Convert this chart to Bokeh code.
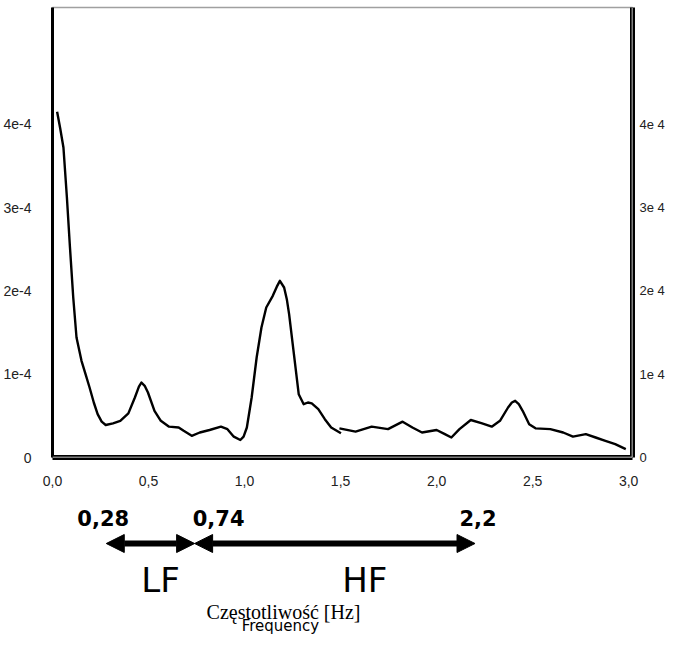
from bokeh.plotting import figure
from bokeh.models import Range1d, LinearAxis, FixedTicker, Span, Arrow, NormalHead
from bokeh.layouts import column
from bokeh.embed import file_html
from bokeh.resources import INLINE
from bokeh.core.properties import value

# ---------------- data ----------------
seg1_freq = [0.024, 0.040, 0.057, 0.075, 0.091, 0.108, 0.125, 0.151, 0.172, 0.193,
             0.215, 0.235, 0.256, 0.277, 0.315, 0.353, 0.395, 0.429, 0.450, 0.463,
             0.480, 0.497, 0.531, 0.564, 0.607, 0.657, 0.683, 0.725, 0.767, 0.818,
             0.877, 0.911, 0.944, 0.978, 0.995, 1.012, 1.037, 1.063, 1.088, 1.113,
             1.147, 1.168, 1.184, 1.206, 1.220, 1.232, 1.257, 1.282, 1.308, 1.330,
             1.350, 1.384, 1.418, 1.451, 1.502]
seg1_psd = [4.15e-4, 3.95e-4, 3.72e-4, 3.12e-4, 2.52e-4, 1.92e-4, 1.44e-4, 1.16e-4, 1.00e-4, 0.84e-4,
            0.66e-4, 0.52e-4, 0.43e-4, 0.39e-4, 0.41e-4, 0.44e-4, 0.53e-4, 0.72e-4, 0.85e-4, 0.90e-4,
            0.86e-4, 0.78e-4, 0.56e-4, 0.44e-4, 0.37e-4, 0.36e-4, 0.32e-4, 0.26e-4, 0.30e-4, 0.33e-4,
            0.37e-4, 0.34e-4, 0.25e-4, 0.21e-4, 0.25e-4, 0.36e-4, 0.72e-4, 1.20e-4, 1.56e-4, 1.80e-4,
            1.94e-4, 2.05e-4, 2.12e-4, 2.04e-4, 1.90e-4, 1.72e-4, 1.24e-4, 0.76e-4, 0.64e-4, 0.66e-4,
            0.65e-4, 0.58e-4, 0.46e-4, 0.36e-4, 0.29e-4]
seg2_freq = [1.494, 1.578, 1.662, 1.747, 1.823, 1.874, 1.924, 2.000, 2.043, 2.077,
             2.119, 2.178, 2.237, 2.287, 2.330, 2.372, 2.392, 2.409, 2.428, 2.448,
             2.482, 2.515, 2.592, 2.659, 2.710, 2.777, 2.828, 2.879, 2.930, 2.985]
seg2_psd = [0.35e-4, 0.31e-4, 0.37e-4, 0.34e-4, 0.43e-4, 0.36e-4, 0.30e-4, 0.33e-4, 0.28e-4, 0.24e-4,
            0.34e-4, 0.45e-4, 0.41e-4, 0.37e-4, 0.44e-4, 0.60e-4, 0.66e-4, 0.68e-4, 0.64e-4, 0.56e-4,
            0.40e-4, 0.35e-4, 0.34e-4, 0.30e-4, 0.25e-4, 0.28e-4, 0.24e-4, 0.20e-4, 0.16e-4, 0.10e-4]

x_ticks = [0.0, 0.5, 1.0, 1.5, 2.0, 2.5, 3.0]
x_tick_labels = ["0,0", "0,5", "1,0", "1,5", "2,0", "2,5", "3,0"]
y_ticks = [0.0, 1e-4, 2e-4, 3e-4, 4e-4]
y_tick_labels_left = ["0", "1e-4", "2e-4", "3e-4", "4e-4"]
y_tick_labels_right = ["0", "1e 4", "2e 4", "3e 4", "4e 4"]

band_names = ["LF", "HF"]
band_lo = [0.28, 0.74]
band_hi = [0.74, 2.2]
edge_values = [0.28, 0.74, 2.2]
edge_labels = ["0,28", "0,74", "2,2"]

title_pl = "Częstotliwość [Hz]"
title_en = "Frequency"

# ---------------- layout constants ----------------
W = 667
X_END = 3.02
BL, BR = 50, 27
lab_font = "Liberation Sans"
lab_col = "#222222"

p = figure(width=W, height=491, output_backend="svg", toolbar_location=None,
           x_range=Range1d(0, X_END), y_range=Range1d(0, 5.40e-4),
           x_axis_location=None, y_axis_location=None,
           min_border=0, min_border_left=BL, min_border_right=BR,
           min_border_top=7, min_border_bottom=34)
p.grid.visible = False
p.outline_line_color = "#a0a0a0"
p.outline_line_width = 1.5

xaxis = LinearAxis(ticker=FixedTicker(ticks=x_ticks),
                   major_label_overrides=dict(zip(x_ticks, x_tick_labels)),
                   axis_line_color="black", axis_line_width=5,
                   major_tick_line_color=None, minor_tick_line_color=None,
                   major_label_text_font=lab_font, major_label_text_font_size="14px",
                   major_label_text_color=lab_col, major_label_standoff=12)
p.add_layout(xaxis, "below")

laxis = LinearAxis(ticker=FixedTicker(ticks=y_ticks),
                   major_label_overrides=dict(zip(y_ticks, y_tick_labels_left)),
                   axis_line_color="black", axis_line_width=3,
                   major_tick_line_color=None, minor_tick_line_color=None,
                   major_label_text_font=lab_font, major_label_text_font_size="14px",
                   major_label_text_color=lab_col, major_label_standoff=15)
p.add_layout(laxis, "left")

raxis = LinearAxis(ticker=FixedTicker(ticks=y_ticks),
                   major_label_overrides=dict(zip(y_ticks, y_tick_labels_right)),
                   axis_line_color="black", axis_line_width=5,
                   major_tick_line_color=None, minor_tick_line_color=None,
                   major_label_text_font=lab_font, major_label_text_font_size="13px",
                   major_label_text_color=lab_col, major_label_standoff=1)
p.add_layout(raxis, "right")

# white inner strokes giving the double-line look of bottom and right axes
p.add_layout(Span(location=0, dimension="width", line_color="white", line_width=1.5))
p.add_layout(Span(location=X_END, dimension="height", line_color="white", line_width=1.5))

p.line(seg1_freq, seg1_psd, line_color="black", line_width=2.4, line_join="round")
p.line(seg2_freq, seg2_psd, line_color="black", line_width=2.4, line_join="round")

# ---------------- annotation strip below ----------------
H2 = 144
q = figure(width=W, height=H2, output_backend="svg", toolbar_location=None,
           x_range=p.x_range, y_range=Range1d(H2, 0),
           x_axis_location=None, y_axis_location=None,
           min_border=0, min_border_left=BL, min_border_right=BR,
           min_border_top=0, min_border_bottom=0)
q.grid.visible = False
q.outline_line_color = None

ARROW_Y = 52
for lo, hi in zip(band_lo, band_hi):
    q.add_layout(Arrow(x_start=lo, y_start=ARROW_Y, x_end=hi, y_end=ARROW_Y,
                       line_color="black", line_width=6,
                       start=NormalHead(size=18, fill_color="black", line_color="black"),
                       end=NormalHead(size=18, fill_color="black", line_color="black")))

q.text(x=edge_values, y=[26] * len(edge_values), text=edge_labels,
       x_offset=[-3, 24, 3],
       text_font=value("DejaVu Sans"), text_font_style="bold", text_font_size="21px",
       text_color="black", text_align="center", text_baseline="middle")

band_mid = [(a + b) / 2 for a, b in zip(band_lo, band_hi)]
q.text(x=band_mid, y=[88] * len(band_mid), text=band_names,
       x_offset=[10, 30],
       text_font=value("DejaVu Sans"), text_font_size="34px",
       text_color="black", text_align="center", text_baseline="middle")

q.text(x=[1.203], y=[120], text=[title_pl],
       text_font=value("Liberation Serif"), text_font_size="20px",
       text_color="black", text_align="center", text_baseline="alphabetic")
q.text(x=[1.187], y=[134], text=[title_en],
       text_font=value("DejaVu Sans"), text_font_size="15px",
       text_color="black", text_align="center", text_baseline="alphabetic")

layout = column(p, q, spacing=0)
open("out.html", "w").write(file_html(layout, INLINE))
